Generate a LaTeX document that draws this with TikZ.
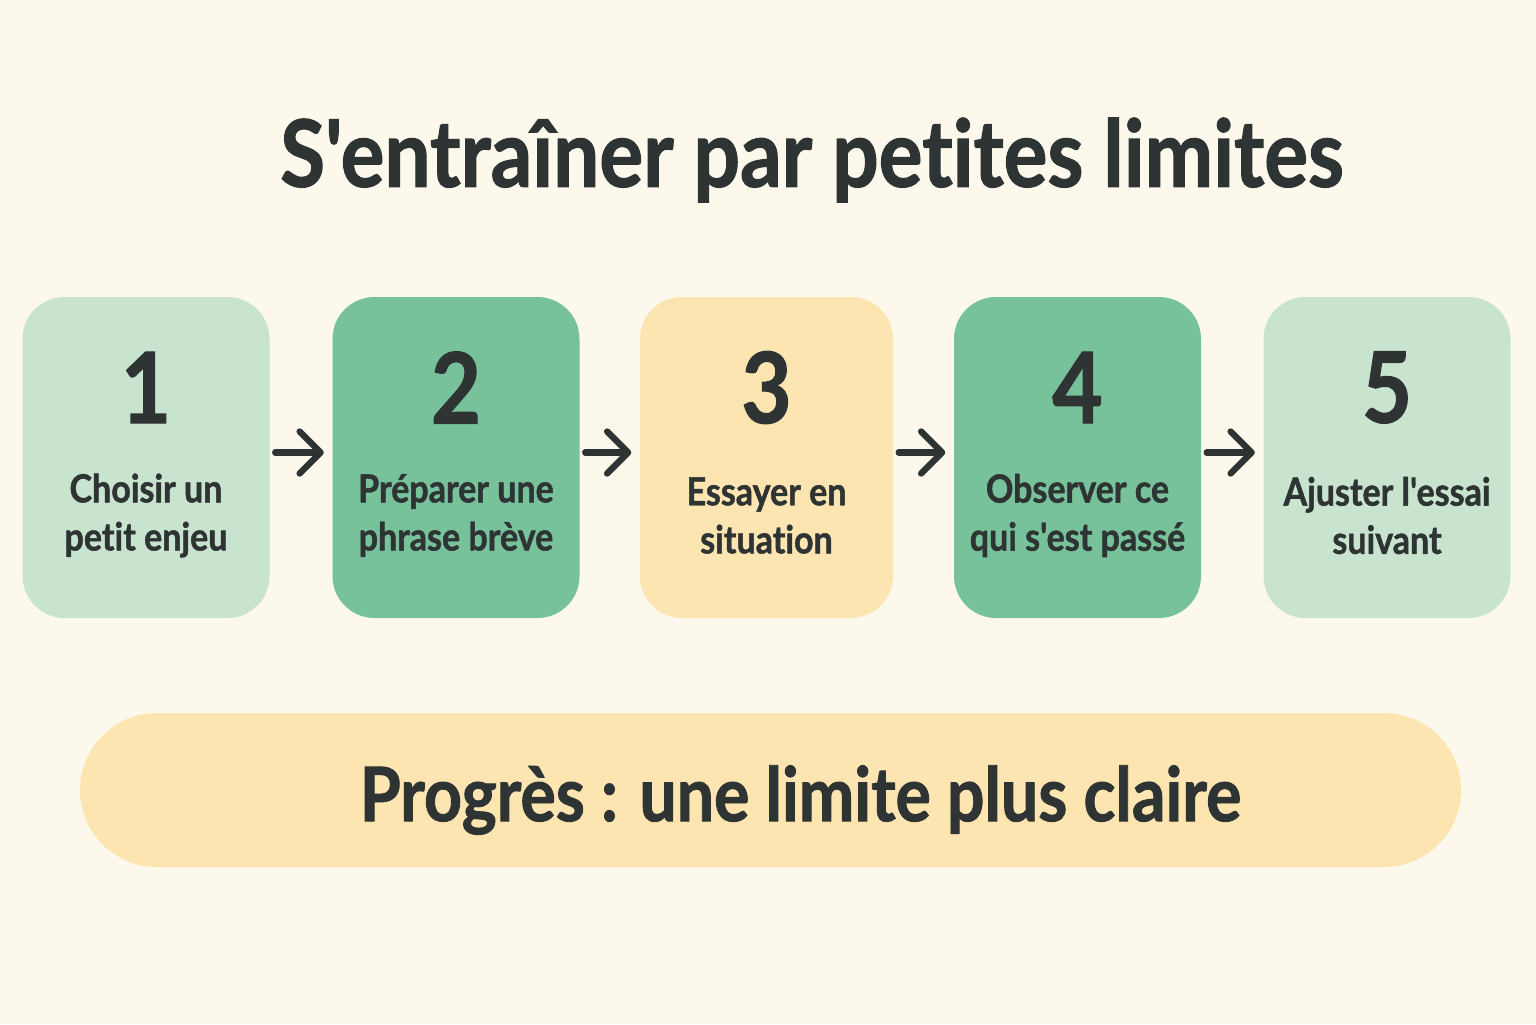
\documentclass[tikz,border=0pt]{standalone}
\usepackage{fontspec}
\setmainfont{Lato}[Ligatures={TeXOff,NoCommon}, FakeStretch=0.88, BoldFeatures={FakeBold=1.2}]
\usetikzlibrary{arrows.meta,positioning,calc}

\definecolor{bgcream}{HTML}{FDF8EC}
\definecolor{ink}{HTML}{2E3333}
\definecolor{softgreen}{HTML}{C9E4CE}
\definecolor{midgreen}{HTML}{78C29B}
\definecolor{softyellow}{HTML}{FDE5B1}

\begin{document}
\begin{tikzpicture}[
    stepbox/.style={rectangle, rounded corners=0.42cm, minimum width=2.47cm, minimum height=3.21cm, inner sep=0pt},
    num/.style={font=\bfseries\fontsize{28}{28}\selectfont, text=ink},
    lbl/.style={font=\bfseries\fontsize{11}{13.7}\selectfont, text=ink, align=center},
    flow/.style={draw=ink, line width=1.8pt, line cap=round, -{Straight Barb[length=2.1mm, width=4.2mm, line cap=round, line join=round]}, shorten <=0.05cm, shorten >=0.08cm},
]
    \fill[bgcream] (0,0) rectangle (15.36,10.24);
    \useasboundingbox (0,0) rectangle (15.36,10.24);

    \node[font=\bfseries\fontsize{26.5}{26.5}\selectfont, text=ink] (title) at (8.12,8.64) {S'entraîner par petites limites};

    % the five steps
    \node[stepbox, fill=softgreen] (b1) at (1.46,5.665) {};
    \node[stepbox, fill=midgreen] (b2) at (4.56,5.665) {};
    \node[stepbox, fill=softyellow, minimum width=2.53cm] (b3) at (7.665,5.665) {};
    \node[stepbox, fill=midgreen] (b4) at (10.775,5.665) {};
    \node[stepbox, fill=softgreen] (b5) at (13.87,5.665) {};

    \node[num] (n1) at ([yshift=0.7cm]b1.center) {1};
    \node[num] (n2) at ([yshift=0.7cm]b2.center) {2};
    \node[num] (n3) at ([yshift=0.7cm]b3.center) {3};
    \node[num] (n4) at ([yshift=0.7cm]b4.center) {4};
    \node[num] (n5) at ([yshift=0.7cm]b5.center) {5};

    \node[lbl] (t1) at ([yshift=-0.58cm]b1.center) {Choisir un\\petit enjeu};
    \node[lbl] (t2) at ([yshift=-0.58cm]b2.center) {Préparer une\\phrase brève};
    \node[lbl] (t3) at ([yshift=-0.58cm]b3.center) {Essayer en\\situation};
    \node[lbl] (t4) at ([yshift=-0.58cm]b4.center) {Observer ce\\qui s'est passé};
    \node[lbl] (t5) at ([yshift=-0.58cm]b5.center) {Ajuster l'essai\\suivant};

    \draw[flow] ([yshift=0.05cm]b1.east) -- ([yshift=0.05cm]b2.west);
    \draw[flow] ([yshift=0.05cm]b2.east) -- ([yshift=0.05cm]b3.west);
    \draw[flow] ([yshift=0.05cm]b3.east) -- ([yshift=0.05cm]b4.west);
    \draw[flow] ([yshift=0.05cm]b4.east) -- ([yshift=0.05cm]b5.west);

    % result bar
    \node[rectangle, rounded corners=0.77cm, fill=softyellow, minimum width=13.81cm, minimum height=1.54cm] (res) at (7.705,2.34) {};
    \node[font=\bfseries\fontsize{21.4}{21.4}\selectfont, text=ink] (restxt) at ([xshift=0.3cm,yshift=-0.1cm]res.center) {Progrès : une limite plus claire};
\end{tikzpicture}
\end{document}
